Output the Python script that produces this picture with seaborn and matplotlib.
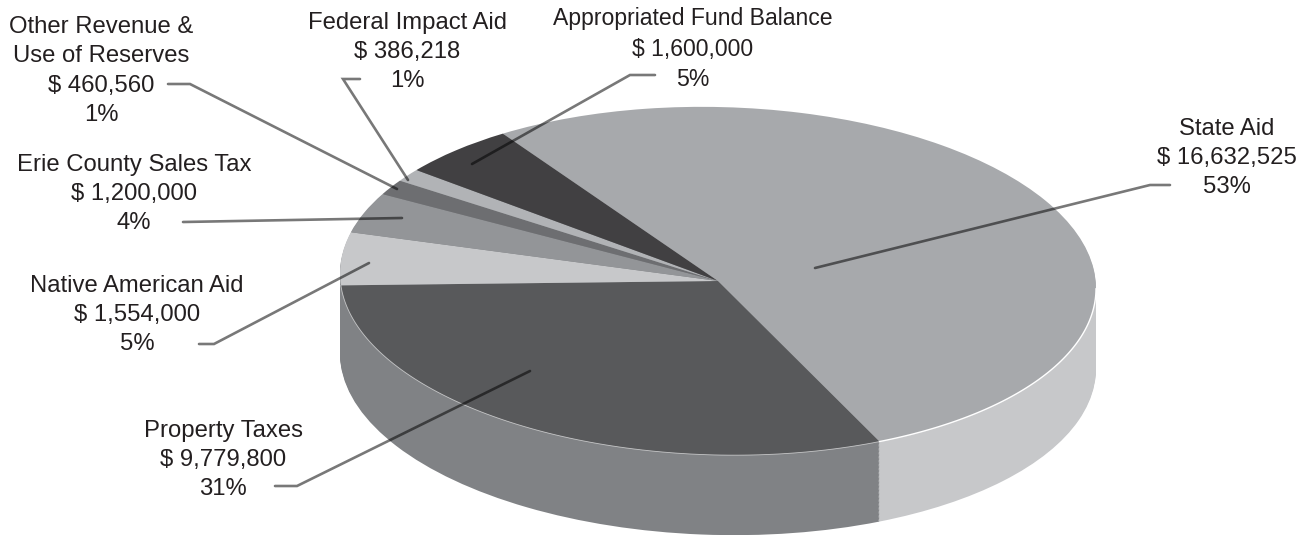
import numpy as np
import matplotlib
matplotlib.use("Agg")
import matplotlib.pyplot as plt
from matplotlib.transforms import Affine2D
import seaborn as sns

# DATA
categories = ["State Aid", "Property Taxes", "Native American Aid", "Erie County Sales Tax",
              "Other Revenue &\nUse of Reserves", "Federal Impact Aid", "Appropriated Fund Balance"]
amounts = [16632525, 9779800, 1554000, 1200000, 460560, 386218, 1600000]

# COLOURS
top_colors = ["#a7a9ac", "#58595b", "#c7c8ca", "#939598", "#6d6e71", "#b1b3b6", "#414042"]
side_colors = ["#c7c8ca", "#808285", "#808285", "#808285", "#808285", "#808285", "#808285"]

sns.set_theme(style="white")
plt.rcParams["font.family"] = ["Liberation Sans", "DejaVu Sans"]

W, H = 1309, 535
CX, CY, RX, RY = 718, 281, 378, 174
DEPTH = 80
START = 124.7
TILT = 0.02  # the ellipse in the reference leans a little, left side higher


# picture pixels to pie units, the pie has radius 1 and gets squashed by the limits
def xy(px, py):
    return (px - CX) / RX, (CY - py) / RY


fig = plt.figure(figsize=(W / 100, H / 100), dpi=100)
ax = fig.add_axes([0, 0, 1, 1])
lean = Affine2D(np.array([[1, 0, 0], [-TILT * RX / RY, 1, 0], [0, 0, 1]])) + ax.transData

# the rim: same pie stacked downwards, bottom layer first
for shift in np.linspace(DEPTH, 1, 60):
    rim, _ = ax.pie(amounts, colors=side_colors, startangle=START, counterclock=False,
                    center=(0, -shift / RY), wedgeprops={"linewidth": 0})
    for w in rim:
        w.set_transform(lean)

wedges, _ = ax.pie(amounts, colors=top_colors, startangle=START, counterclock=False,
                   wedgeprops={"linewidth": 0})
for w in wedges:
    w.set_transform(lean)

# thin light lines where the two front slices meet their rim
t = np.radians(np.linspace(wedges[0].theta1, 0, 100))
ax.plot(np.cos(t), np.sin(t), color="white", lw=1.0, zorder=5, transform=lean)
t = np.radians(np.linspace(wedges[1].theta1, wedges[1].theta2, 100))
ax.plot(np.cos(t), np.sin(t), color="white", lw=0.6, alpha=0.6, zorder=5, transform=lean)

ax.set_aspect("auto")
ax.set_xlim(xy(0, 0)[0], xy(W, 0)[0])
ax.set_ylim(xy(0, H)[1], xy(0, 0)[1])
ax.axis("off")

# LABELS
total = sum(amounts)
label_pos = [(1227, 158), (223, 460), (137, 315), (134, 194), (101, 71), (407, 52), (693, 49)]
label_size = [17.2, 17.2, 17.2, 17.2, 17.2, 17.2, 16.6]
for name, amount, (px, py), size in zip(categories, amounts, label_pos, label_size):
    txt = f"{name}\n$ {amount:,}\n{amount / total * 100:.0f}%"
    lx, ly = xy(px, py)
    ax.text(lx, ly, txt, ha="center", va="center", fontsize=size, color="#231f20",
            linespacing=1.42, zorder=7)

# leader lines, black with alpha so they darken over the slices
leaders = [
    [(1170, 185), (1150, 185), (815, 268)],
    [(275, 486), (297, 486), (530, 371)],
    [(199, 344), (214, 344), (369, 263)],
    [(183, 222), (402, 218)],
    [(168, 84), (190, 84), (397, 189)],
    [(360, 79), (343, 79), (408, 180)],
    [(655, 75), (630, 75), (472, 164)],
]
for pts in leaders:
    lx, ly = zip(*[xy(*p) for p in pts])
    ax.plot(lx, ly, color="black", lw=1.9, alpha=0.53, solid_joinstyle="miter", zorder=6)

fig.savefig("out.png", dpi=100)
